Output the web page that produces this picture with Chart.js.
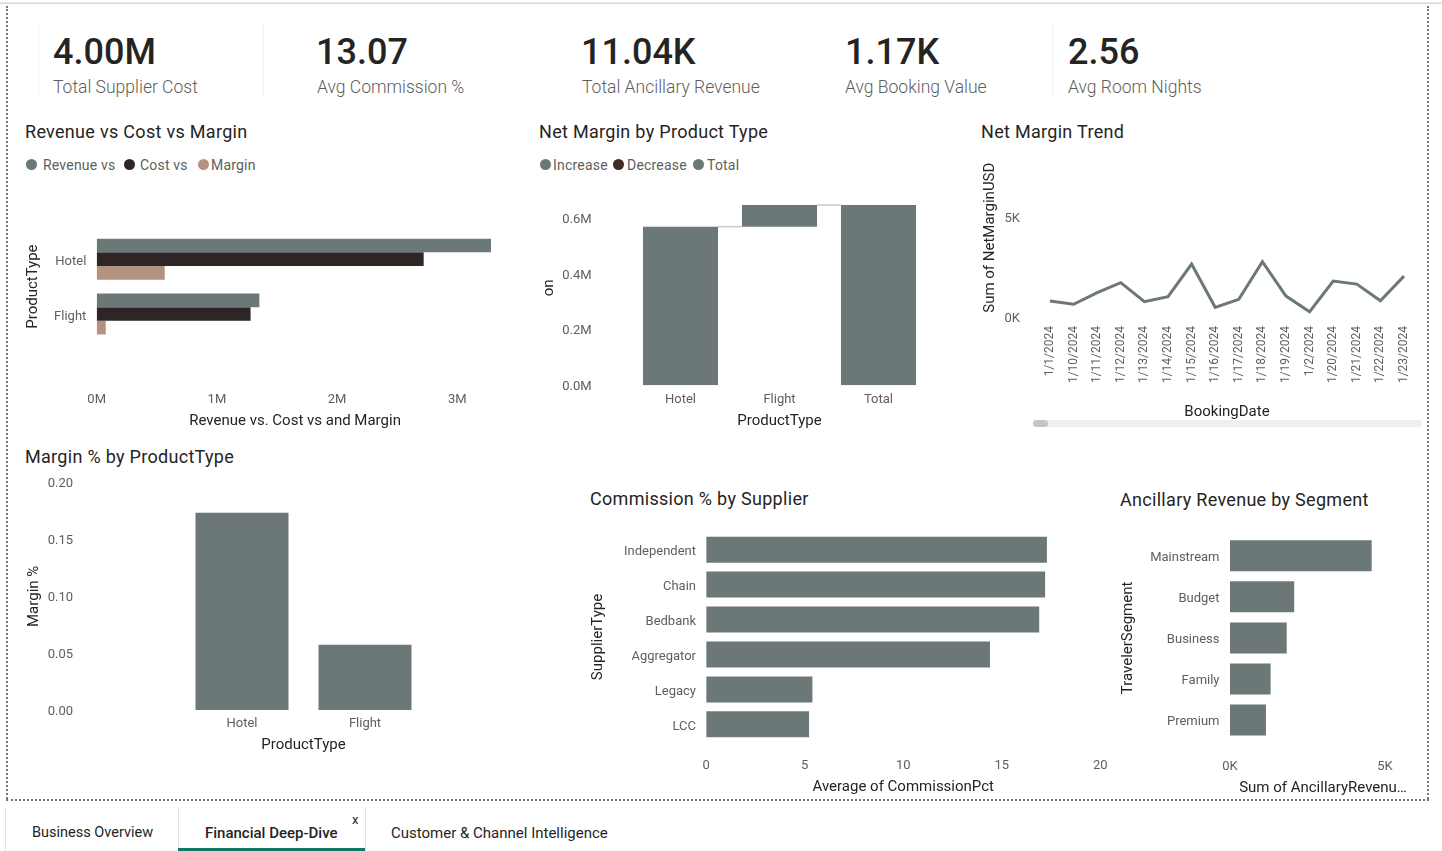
<!DOCTYPE html>
<html>
<head>
<meta charset="utf-8">
<script src="https://cdn.jsdelivr.net/npm/chart.js@4.4.1/dist/chart.umd.min.js"></script>
<style>
html, body { margin: 0; padding: 0; background: #fff; }
body { width: 1442px; height: 851px; position: relative; overflow: hidden; font-family: Roboto, sans-serif; }
.kv { position: absolute; top: 34px; font-size: 36px; line-height: 36px; font-weight: 500; color: #252423; white-space: nowrap; }
.kl { position: absolute; top: 79px; font-size: 17.5px; line-height: 17px; font-weight: 300; color: #605e5c; white-space: nowrap; }
.ttl { position: absolute; font-size: 18px; line-height: 18px; letter-spacing: 0.3px; color: #252423; white-space: nowrap; }
.lg { position: absolute; top: 157px; font-size: 14px; line-height: 16px; letter-spacing: 0.2px; color: #605e5c; white-space: nowrap; }
.dot { position: absolute; top: 158.5px; width: 11px; height: 11px; border-radius: 50%; }
.box { position: absolute; }
.tab { position: absolute; top: 825px; font-size: 14.5px; line-height: 16px; color: #252423; white-space: nowrap; }
.sep { position: absolute; top: 808px; width: 1px; height: 43px; background: #e3e3e3; }
.vline { position: absolute; top: 24px; width: 1px; height: 74px; background: #f3f3f3; }
</style>
</head>
<body>

<!-- frame -->
<div style="position:absolute;left:0;top:2px;width:1442px;height:1px;background:#ececec"></div>
<div style="position:absolute;left:0;top:3px;width:1442px;height:1px;background:#dadada"></div>
<div style="position:absolute;left:6px;top:6px;height:793px;border-left:2px dotted #777"></div>
<div style="position:absolute;left:1427px;top:6px;height:793px;border-left:2px dotted #777"></div>
<div style="position:absolute;left:6px;top:799px;width:1423px;border-top:2px dotted #777"></div>

<!-- KPI cards -->
<div class="vline" style="left:38px"></div>
<div class="vline" style="left:263px"></div>
<div class="vline" style="left:1052px"></div>
<div class="kv" style="left:53px">4.00M</div>
<div class="kl" style="left:53px">Total Supplier Cost</div>
<div class="kv" style="left:316px">13.07</div>
<div class="kl" style="left:317px">Avg Commission %</div>
<div class="kv" style="left:581px">11.04K</div>
<div class="kl" style="left:582px">Total Ancillary Revenue</div>
<div class="kv" style="left:845px">1.17K</div>
<div class="kl" style="left:845px">Avg Booking Value</div>
<div class="kv" style="left:1068px">2.56</div>
<div class="kl" style="left:1068px">Avg Room Nights</div>

<!-- titles and legends -->
<div class="ttl" style="left:25px;top:123px">Revenue vs Cost vs Margin</div>
<div class="dot" style="left:25.5px;background:#6C7778"></div>
<div class="lg" style="left:43px">Revenue vs</div>
<div class="dot" style="left:123.5px;background:#2E2525"></div>
<div class="lg" style="left:140px">Cost vs</div>
<div class="dot" style="left:197.5px;background:#B39280"></div>
<div class="lg" style="left:211px">Margin</div>

<div class="ttl" style="left:539px;top:123px">Net Margin by Product Type</div>
<div class="dot" style="left:539.5px;background:#6C7778"></div>
<div class="lg" style="left:553px">Increase</div>
<div class="dot" style="left:613px;background:#3F2B26"></div>
<div class="lg" style="left:627px">Decrease</div>
<div class="dot" style="left:693px;background:#6C7778"></div>
<div class="lg" style="left:707px">Total</div>

<div class="ttl" style="left:981px;top:123px">Net Margin Trend</div>
<div class="ttl" style="left:25px;top:448px">Margin % by ProductType</div>
<div class="ttl" style="left:590px;top:490px">Commission % by Supplier</div>
<div class="ttl" style="left:1120px;top:491px">Ancillary Revenue by Segment</div>

<!-- charts -->
<div class="box" style="left:15px;top:180px;width:500px;height:250px"><canvas id="revCost"></canvas></div>
<div class="box" style="left:530px;top:180px;width:420px;height:250px"><canvas id="waterfall"></canvas></div>
<div class="box" style="left:975px;top:145px;width:450px;height:290px"><canvas id="trend"></canvas></div>
<div class="box" style="left:15px;top:470px;width:540px;height:285px"><canvas id="marginPct"></canvas></div>
<div class="box" style="left:580px;top:520px;width:540px;height:275px"><canvas id="commission"></canvas></div>
<div class="box" style="left:1110px;top:520px;width:320px;height:275px"><canvas id="ancillary"></canvas></div>

<!-- trend scrollbar -->
<div style="position:absolute;left:1033px;top:420px;width:389px;height:7px;border-radius:4px;background:#efefef"></div>
<div style="position:absolute;left:1033px;top:420px;width:15px;height:7px;border-radius:4px;background:#c4c4c4"></div>

<!-- page tabs -->
<div class="sep" style="left:5px"></div>
<div class="sep" style="left:178px"></div>
<div class="sep" style="left:365px"></div>
<div class="tab" style="left:32px">Business Overview</div>
<div class="tab" style="left:205px;font-size:15px;font-weight:500">Financial Deep-Dive</div>
<div style="position:absolute;left:352px;top:813px;font-size:13px;line-height:14px;color:#252423">x</div>
<div class="tab" style="left:391px;font-size:15px">Customer &amp; Channel Intelligence</div>
<div style="position:absolute;left:178px;top:848px;width:187px;height:3px;background:#117865"></div>

<script>
const productTypes = ['Hotel', 'Flight'];
const revenueUSD = [3280000, 1353000];
const costUSD = [2720000, 1280000];
const marginUSD = [566000, 75000];
const netMarginUSD = [570000, 78000];
const marginPct = [0.1736, 0.0575];

const bookingDates = ['1/1/2024', '1/10/2024', '1/11/2024', '1/12/2024', '1/13/2024', '1/14/2024',
  '1/15/2024', '1/16/2024', '1/17/2024', '1/18/2024', '1/19/2024', '1/2/2024', '1/20/2024',
  '1/21/2024', '1/22/2024', '1/23/2024'];
const netMarginTrend = [830, 670, 1250, 1750, 800, 1050, 2680, 520, 920, 2800, 1080, 300, 1830, 1680, 850, 2080];

const supplierTypes = ['Independent', 'Chain', 'Bedbank', 'Aggregator', 'Legacy', 'LCC'];
const commissionPct = [17.29, 17.2, 16.9, 14.4, 5.39, 5.22];

const travelerSegments = ['Mainstream', 'Budget', 'Business', 'Family', 'Premium'];
const ancillaryRevenue = [4570, 2070, 1830, 1310, 1160];

const GRAY = '#6C7778';
const DARK = '#2E2525';
const TAN = '#B39280';
const BROWN = '#3F2B26';
const TXT = '#252423';

Chart.defaults.font.family = 'Roboto';
Chart.defaults.color = '#605e5c';
Chart.defaults.animation = false;

// ticks every `step` from min up to max (max itself only if it falls on a step)
const stepTicks = step => s => {
  const out = [];
  for (let i = 0; s.min + i * step <= s.max + step * 1e-6; i++) out.push({ value: s.min + i * step });
  s.ticks = out;
};
// fixed axis sizes, and no extra label padding pushed into the layout
const fitY = w => s => { s.width = w; s.paddingTop = 0; s.paddingBottom = 0; s.paddingLeft = 0; s.paddingRight = 0; };
const fitX = h => s => { s.height = h; s.paddingTop = 0; s.paddingBottom = 0; s.paddingLeft = 0; s.paddingRight = 0; };
const noGrid = { display: false, drawTicks: false };
const noBorder = { display: false };
const axisTitle = (text, padding) => ({ display: true, text: text, color: TXT, font: { size: 15 }, padding: padding });

// Revenue vs Cost vs Margin
new Chart(document.getElementById('revCost'), {
  type: 'bar',
  data: {
    labels: productTypes,
    datasets: [
      { label: 'Revenue vs', data: revenueUSD, backgroundColor: GRAY },
      { label: 'Cost vs', data: costUSD, backgroundColor: DARK },
      { label: 'Margin', data: marginUSD, backgroundColor: TAN }
    ]
  },
  options: {
    indexAxis: 'y',
    responsive: true,
    maintainAspectRatio: false,
    layout: { padding: { top: 51.8, right: 21.6, bottom: 0, left: 0 } },
    datasets: { bar: { categoryPercentage: 0.75, barPercentage: 1 } },
    plugins: { legend: { display: false } },
    scales: {
      x: {
        min: 0, max: 3300000,
        grid: noGrid, border: noBorder,
        ticks: { padding: 50.8, font: { size: 13 }, callback: v => (v / 1000000) + 'M' },
        afterBuildTicks: stepTicks(1000000),
        afterFit: fitX(88.6),
        title: axisTitle('Revenue vs. Cost vs and Margin', { top: 0, bottom: 0 })
      },
      y: {
        grid: noGrid, border: noBorder,
        ticks: { padding: 10.4, labelOffset: 2.5, font: { size: 13 } },
        afterFit: fitY(81.7),
        title: axisTitle('ProductType', { top: 9.3, bottom: 0 })
      }
    }
  }
});

// Net Margin waterfall
const wfLabels = productTypes.concat(['Total']);
let running = 0;
const wfBars = netMarginUSD.map(v => {
  const bar = [running, running + v];
  running += v;
  return bar;
});
wfBars.push([0, running]);
const wfColors = netMarginUSD.map(v => v >= 0 ? GRAY : BROWN).concat([GRAY]);

const connectors = {
  id: 'connectors',
  afterDatasetsDraw(chart) {
    const meta = chart.getDatasetMeta(0);
    const y = chart.scales.y;
    const ctx = chart.ctx;
    ctx.save();
    ctx.strokeStyle = '#c9c9c9';
    ctx.lineWidth = 1.5;
    for (let i = 0; i < meta.data.length - 1; i++) {
      const a = meta.data[i], b = meta.data[i + 1];
      const py = y.getPixelForValue(wfBars[i][1]);
      ctx.beginPath();
      ctx.moveTo(a.x + a.width / 2, py);
      ctx.lineTo(b.x - b.width / 2, py);
      ctx.stroke();
    }
    ctx.restore();
  }
};

new Chart(document.getElementById('waterfall'), {
  type: 'bar',
  data: {
    labels: wfLabels,
    datasets: [{ label: 'Net Margin', data: wfBars, backgroundColor: wfColors }]
  },
  options: {
    responsive: true,
    maintainAspectRatio: false,
    layout: { padding: { top: 10.5, right: 22, bottom: 0, left: 0 } },
    datasets: { bar: { categoryPercentage: 1, barPercentage: 0.758 } },
    plugins: { legend: { display: false } },
    scales: {
      x: {
        grid: noGrid, border: noBorder,
        ticks: { padding: 6.9, font: { size: 13 } },
        afterFit: fitX(44.7),
        title: axisTitle('ProductType', { top: 0, bottom: 0 })
      },
      y: {
        min: 0, max: 700000,
        grid: noGrid, border: noBorder,
        ticks: { padding: 39.3, labelOffset: 1.5, font: { size: 13 }, callback: v => (v / 1000000).toFixed(1) + 'M' },
        afterBuildTicks: stepTicks(200000),
        afterFit: fitY(101),
        title: axisTitle('on', { top: 10, bottom: 0 })
      }
    }
  },
  plugins: [connectors]
});

// Net Margin Trend
new Chart(document.getElementById('trend'), {
  type: 'line',
  data: {
    labels: bookingDates,
    datasets: [{
      label: 'Sum of NetMarginUSD', data: netMarginTrend,
      borderColor: GRAY, borderWidth: 3, pointRadius: 0, tension: 0, fill: false
    }]
  },
  options: {
    responsive: true,
    maintainAspectRatio: false,
    layout: { padding: { top: 12.7, right: 9.2, bottom: 0, left: 0 } },
    plugins: { legend: { display: false } },
    scales: {
      x: {
        offset: true,
        grid: noGrid, border: noBorder,
        ticks: { autoSkip: false, minRotation: 90, maxRotation: 90, padding: 8.3, font: { size: 12 } },
        afterFit: fitX(117.3),
        title: axisTitle('BookingDate', { top: 0, bottom: 14 })
      },
      y: {
        min: 0, max: 8000,
        grid: noGrid, border: noBorder,
        ticks: { padding: 18.2, labelOffset: 1.5, font: { size: 13 }, callback: v => (v / 1000) + 'K' },
        afterBuildTicks: stepTicks(5000),
        afterFit: fitY(63.2),
        title: axisTitle('Sum of NetMarginUSD', { top: 6, bottom: 0 })
      }
    }
  }
});

// Margin % by ProductType
new Chart(document.getElementById('marginPct'), {
  type: 'bar',
  data: {
    labels: productTypes,
    datasets: [{ label: 'Margin %', data: marginPct, backgroundColor: GRAY }]
  },
  options: {
    responsive: true,
    maintainAspectRatio: false,
    layout: { padding: { top: 12.7, right: 128.5, bottom: 0, left: 0 } },
    datasets: { bar: { categoryPercentage: 1, barPercentage: 0.756 } },
    plugins: { legend: { display: false } },
    scales: {
      x: {
        grid: noGrid, border: noBorder,
        ticks: { padding: 6.2, font: { size: 13 } },
        afterFit: fitX(45),
        title: axisTitle('ProductType', { top: 0, bottom: 1 })
      },
      y: {
        min: 0, max: 0.2,
        grid: noGrid, border: noBorder,
        ticks: { padding: 107.5, labelOffset: 1.5, font: { size: 13 }, callback: v => v.toFixed(2) },
        afterBuildTicks: stepTicks(0.05),
        afterFit: fitY(165.5),
        title: axisTitle('Margin %', { top: 10, bottom: 0 })
      }
    }
  }
});

// Commission % by Supplier
new Chart(document.getElementById('commission'), {
  type: 'bar',
  data: {
    labels: supplierTypes,
    datasets: [{ label: 'Average of CommissionPct', data: commissionPct, backgroundColor: GRAY }]
  },
  options: {
    indexAxis: 'y',
    responsive: true,
    maintainAspectRatio: false,
    layout: { padding: { top: 12.2, right: 19.7, bottom: 0, left: 0 } },
    datasets: { bar: { categoryPercentage: 1, barPercentage: 0.745 } },
    plugins: { legend: { display: false } },
    scales: {
      x: {
        min: 0, max: 20,
        grid: noGrid, border: noBorder,
        ticks: { padding: 16.4, font: { size: 13 } },
        afterBuildTicks: stepTicks(5),
        afterFit: fitX(53.2),
        title: axisTitle('Average of CommissionPct', { top: 0, bottom: -1 })
      },
      y: {
        grid: noGrid, border: noBorder,
        ticks: { padding: 10.2, labelOffset: 2, font: { size: 13 } },
        afterFit: fitY(126.2),
        title: axisTitle('SupplierType', { top: 9.6, bottom: 0 })
      }
    }
  }
});

// Ancillary Revenue by Segment
new Chart(document.getElementById('ancillary'), {
  type: 'bar',
  data: {
    labels: travelerSegments,
    datasets: [{ label: 'Sum of AncillaryRevenueUSD', data: ancillaryRevenue, backgroundColor: GRAY }]
  },
  options: {
    indexAxis: 'y',
    responsive: true,
    maintainAspectRatio: false,
    layout: { padding: { top: 15.3, right: 14, bottom: 0, left: 0 } },
    datasets: { bar: { categoryPercentage: 1, barPercentage: 0.756 } },
    plugins: { legend: { display: false } },
    scales: {
      x: {
        min: 0, max: 6000,
        grid: noGrid, border: noBorder,
        ticks: { padding: 18.7, font: { size: 13 }, callback: v => (v / 1000) + 'K' },
        afterBuildTicks: stepTicks(5000),
        afterFit: fitX(54.5),
        title: axisTitle('Sum of AncillaryRevenu…', { top: 0, bottom: -2 })
      },
      y: {
        grid: noGrid, border: noBorder,
        ticks: { padding: 10.5, labelOffset: 2, font: { size: 13 } },
        afterFit: fitY(120),
        title: axisTitle('TravelerSegment', { top: 9, bottom: 0 })
      }
    }
  }
});
</script>
</body>
</html>
